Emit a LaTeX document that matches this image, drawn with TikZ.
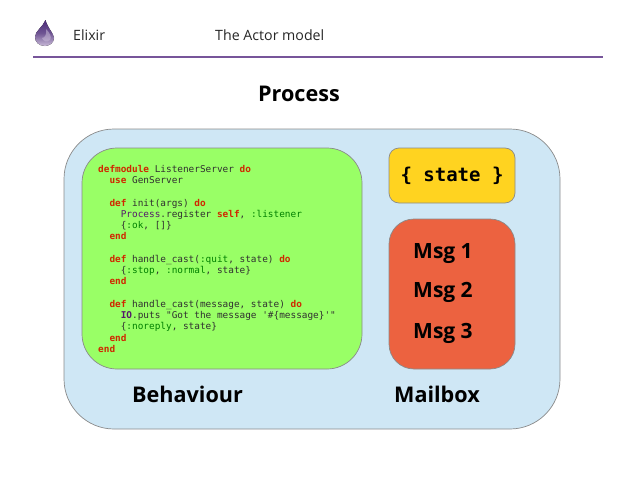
\documentclass[tikz,border=0pt]{standalone}
\usepackage{fontspec}
\setmainfont{Open Sans}
\setmonofont{DejaVu Sans Mono}
\definecolor{RuleColor}{HTML}{77559A}
\definecolor{ProcessFill}{HTML}{CFE7F5}
\definecolor{BehaviourFill}{HTML}{99FF66}
\definecolor{StateFill}{HTML}{FFD320}
\definecolor{MailboxFill}{HTML}{EC6240}
\definecolor{BoxLine}{HTML}{8A8A8A}
\definecolor{CodeKey}{HTML}{D02800}
\definecolor{CodeAtom}{HTML}{008000}
\definecolor{CodeMod}{HTML}{551A6B}
\definecolor{CodeText}{HTML}{303030}
\definecolor{DropDark}{HTML}{4B2A78}
\definecolor{DropLight}{HTML}{C9BBD8}
\newcommand{\kw}[1]{\textcolor{CodeKey}{\textbf{#1}}}
\newcommand{\atom}[1]{\textcolor{CodeAtom}{#1}}
\newcommand{\modname}[1]{\textcolor{CodeMod}{#1}}
\tikzset{
  heading/.style={font=\fontsize{14.2}{17}\selectfont,text=black!85,inner sep=0pt},
  biglabel/.style={font=\fontsize{21.6}{26}\selectfont\bfseries,text=black,inner sep=0pt},
  msglabel/.style={font=\fontsize{21}{25}\selectfont\bfseries,text=black,inner sep=0pt,anchor=west},
  panel/.style={draw=BoxLine,line width=.7pt}
}
\begin{document}
\begin{tikzpicture}[x=1pt,y=-1pt]
\useasboundingbox (0,0) rectangle (638,479);

% header
\coordinate (RuleLeft) at (33,57);
\coordinate (RuleRight) at (603,57);
\draw[RuleColor,line width=2pt] (RuleLeft) -- (RuleRight);
\fill[top color=DropDark,bottom color=DropLight,middle color=DropDark!80] (45.5,20) .. controls (47,27) and (54,34) .. (54,38) .. controls (54,43) and (49,46) .. (45,46) .. controls (39,46) and (35,42) .. (35,37) .. controls (35,31) and (43,27) .. (45.5,20) -- cycle;
\fill[DropLight,opacity=.55] (46,29) .. controls (50,33) and (52,37) .. (50,40) .. controls (47,43) and (43,41) .. (42,38) .. controls (45,38) and (47,34) .. (46,29) -- cycle;
\node[heading,anchor=west] (ElixirTitle) at (73,35) {Elixir};
\node[heading,anchor=west] (ActorTitle) at (215,35) {The Actor model};
\node[biglabel] (ProcessTitle) at (299,93.5) {Process};

% boxes
\draw[panel,fill=ProcessFill,rounded corners=50pt] (64,129) rectangle (560,429);
\draw[panel,fill=BehaviourFill,rounded corners=35pt] (82,148) rectangle (362,369);
\draw[panel,fill=StateFill,rounded corners=10pt] (389,148) rectangle (515,203);
\draw[panel,fill=MailboxFill,rounded corners=25pt] (389,219) rectangle (515,369);

% code
\node[anchor=north west,inner sep=0pt,align=left,text=CodeText,
  font=\fontsize{9.4}{11.25}\selectfont\ttfamily] (ListenerCode) at (98,165) {%
\kw{defmodule} ListenerServer \kw{do}\\
\ \ \kw{use} GenServer\\
\mbox{}\\
\ \ \kw{def} init(args) \kw{do}\\
\ \ \ \ \modname{Process}.register \kw{self}, \atom{:listener}\\
\ \ \ \ \{\atom{:ok}, []\}\\
\ \ \kw{end}\\
\mbox{}\\
\ \ \kw{def} handle\_cast(\atom{:quit}, state) \kw{do}\\
\ \ \ \ \{\atom{:stop}, \atom{:normal}, state\}\\
\ \ \kw{end}\\
\mbox{}\\
\ \ \kw{def} handle\_cast(message, state) \kw{do}\\
\ \ \ \ \modname{\textbf{IO}}.puts "Got the message '\#\{message\}'"\\
\ \ \ \ \{\atom{:noreply}, state\}\\
\ \ \kw{end}\\
\kw{end}};

% labels
\node[inner sep=0pt,font=\fontsize{19}{23}\selectfont\ttfamily\bfseries,text=black] (StateLabel) at (452,175.5) {\{ state \}};
\node[msglabel] (MsgOne) at (413,254) {Msg 1};
\node[msglabel] (MsgTwo) at (413,292) {Msg 2};
\node[msglabel] (MsgThree) at (413,333) {Msg 3};
\node[biglabel] (BehaviourLabel) at (187.5,394) {Behaviour};
\node[biglabel] (MailboxLabel) at (437,394) {Mailbox};
\end{tikzpicture}
\end{document}
